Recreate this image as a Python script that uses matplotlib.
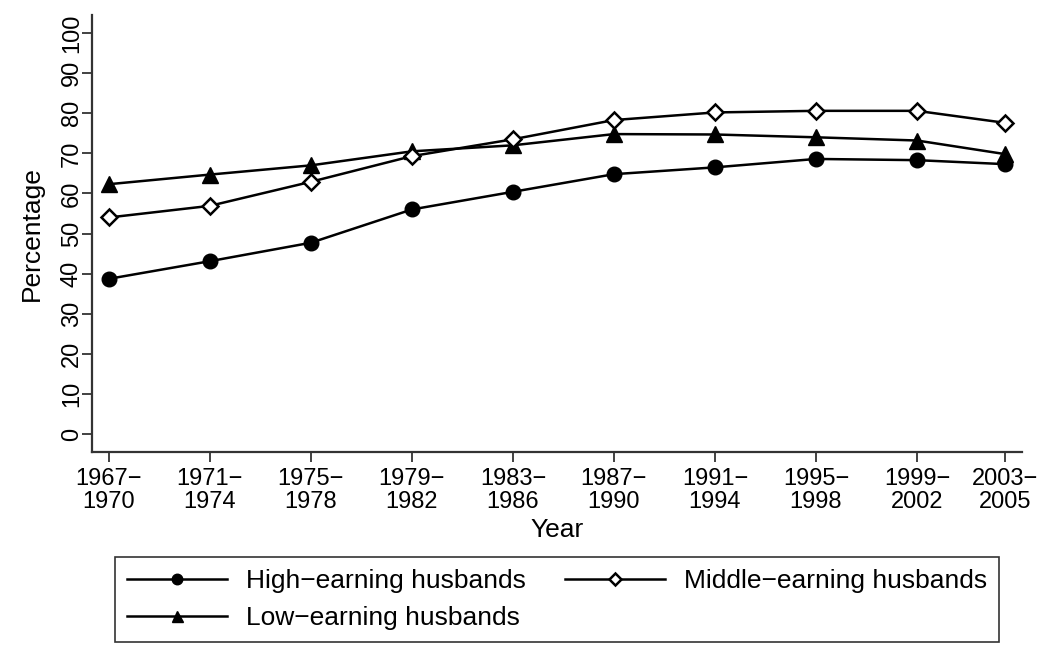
import matplotlib
matplotlib.use("Agg")
import matplotlib.pyplot as plt

plt.rcParams['font.family'] = ['Liberation Sans', 'DejaVu Sans']

periods = ["1967\u2212\n1970", "1971\u2212\n1974", "1975\u2212\n1978", "1979\u2212\n1982",
           "1983\u2212\n1986", "1987\u2212\n1990", "1991\u2212\n1994", "1995\u2212\n1998",
           "1999\u2212\n2002", "2003\u2212\n2005"]
x_mid = [1968.5, 1972.5, 1976.5, 1980.5, 1984.5, 1988.5, 1992.5, 1996.5, 2000.5, 2004.0]

high = [38.7, 43.1, 47.7, 56.0, 60.4, 64.8, 66.5, 68.6, 68.3, 67.3]
middle = [54.0, 56.9, 62.9, 69.3, 73.5, 78.3, 80.2, 80.6, 80.6, 77.6]
low = [62.3, 64.7, 67.0, 70.5, 72.0, 74.8, 74.7, 74.0, 73.2, 69.8]

yticks = list(range(0, 101, 10))

FS = 17
LFS = 19

fig = plt.figure(figsize=(10.5, 6.53), dpi=100)
ax = fig.add_axes([0.0876, 0.3078, 0.8857, 0.6692])

lw = 1.8
ax.plot(x_mid, high, color='black', lw=lw, marker='o', ms=10.5, mfc='black', mec='black',
        label='High\u2212earning husbands', zorder=3)
ax.plot(x_mid, low, color='black', lw=lw, marker='^', ms=11, mfc='black', mec='black',
        label='Low\u2212earning husbands', zorder=3)
ax.plot(x_mid, middle, color='black', lw=lw, marker='D', ms=8, mfc='white', mec='black', mew=1.8,
        label='Middle\u2212earning husbands', zorder=4)

ax.set_xlim(1967.83, 2004.66)
ax.set_ylim(-4.5, 104.5)
ax.set_xticks(x_mid)
ax.set_xticklabels(periods, fontsize=FS, linespacing=1.08)
ax.set_yticks(yticks)
ax.set_yticklabels([str(v) for v in yticks], fontsize=FS, rotation=90, va='center')
ax.tick_params(axis='both', direction='out', length=7.5, width=1.3, color='#333333')
ax.tick_params(axis='x', pad=4)
ax.tick_params(axis='y', pad=-1)
for s in ['top', 'right']:
    ax.spines[s].set_visible(False)
for s in ['left', 'bottom']:
    ax.spines[s].set_linewidth(1.6)
    ax.spines[s].set_color('#333333')

ax.set_xlabel('Year', fontsize=LFS, labelpad=3)
ax.set_ylabel('Percentage', fontsize=LFS, labelpad=12)

handles, labels = ax.get_legend_handles_labels()
leg = fig.legend(handles, labels, loc='upper left', bbox_to_anchor=(115 / 1050, 1 - 557 / 653),
                 ncol=2, fontsize=LFS, handlelength=3.8, handletextpad=0.7,
                 columnspacing=1.5, borderpad=0.45, labelspacing=0.5, frameon=True, fancybox=False,
                 markerscale=0.72, borderaxespad=0)
leg.get_frame().set_edgecolor('black')
leg.get_frame().set_linewidth(1.2)

fig.savefig('out.png', dpi=100)
